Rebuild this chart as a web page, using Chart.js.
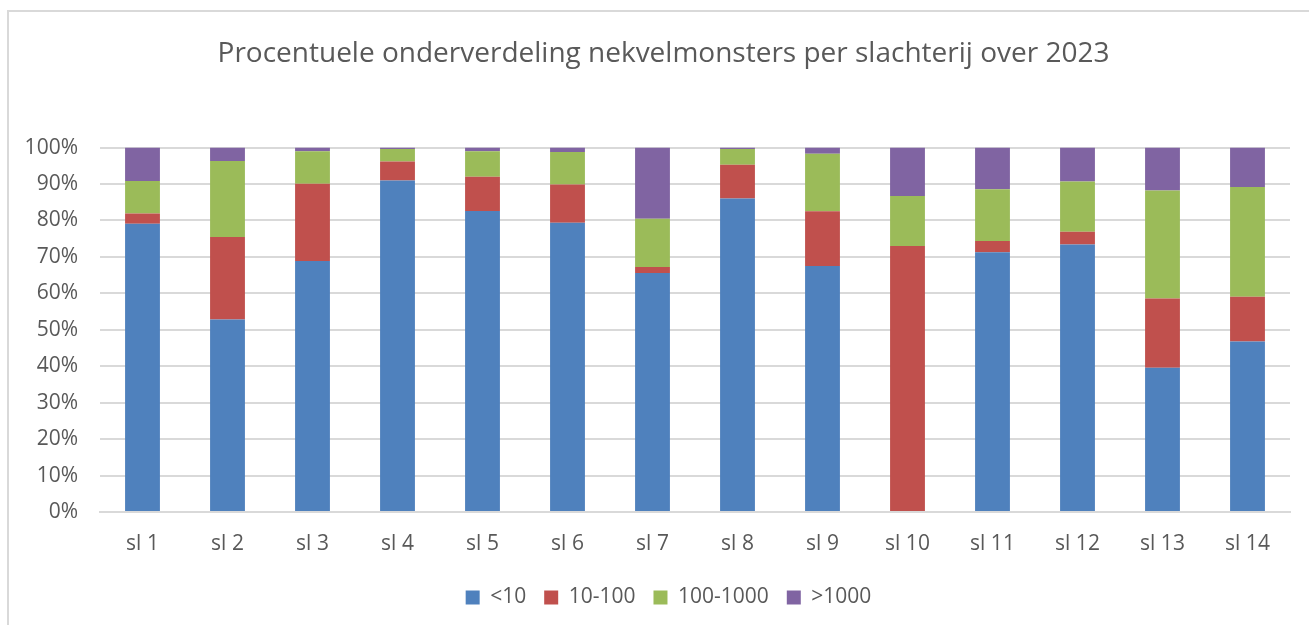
<!DOCTYPE html>
<html>
<head>
<meta charset="utf-8">
<script src="https://cdn.jsdelivr.net/npm/chart.js@4.4.0/dist/chart.umd.min.js"></script>
<style>
  html, body { margin: 0; padding: 0; background: #ffffff; overflow: hidden; }
  #frame { position: absolute; left: 7px; top: 10px; width: 1320px; height: 640px; border: 2px solid #d9d9d9; box-sizing: border-box; }
  #wrap { position: absolute; left: 0; top: 0; width: 1309px; height: 625px; }
</style>
</head>
<body>
<div id="frame"></div>
<div id="wrap"><canvas id="c" width="1309" height="625"></canvas></div>
<script>
const categories = ["sl 1","sl 2","sl 3","sl 4","sl 5","sl 6","sl 7","sl 8","sl 9","sl 10","sl 11","sl 12","sl 13","sl 14"];
const seriesNames = ["<10", "10-100", "100-1000", ">1000"];
const lt10      = [79.1, 52.8, 68.9, 91.0, 82.6, 79.4, 65.6, 86.0, 67.5, 0.0, 71.3, 73.4, 39.6, 46.8];
const r10_100   = [ 2.8, 22.7, 21.2,  5.2,  9.4, 10.5,  1.6,  9.3, 15.0, 73.0,  3.1,  3.5, 19.0, 12.3];
const r100_1000 = [ 8.9, 20.8,  8.9,  3.4,  7.0,  8.9, 13.3,  4.3, 15.8, 13.7, 14.2, 13.8, 29.6, 30.1];
const gt1000    = [ 9.2,  3.7,  1.0,  0.4,  1.0,  1.2, 19.5,  0.4,  1.7, 13.3, 11.4,  9.3, 11.8, 10.8];
const yTicks = [0,10,20,30,40,50,60,70,80,90,100];

const colors = ["#4F81BD", "#C0504D", "#9BBB59", "#8064A2"];
const seriesData = [lt10, r10_100, r100_1000, gt1000];
const FONT = "'Open Sans', 'Noto Sans', sans-serif";
const TXT = "#595959";

// Centre title and legend over the whole chart frame rather than the padded box
const centerBlocks = {
  id: 'centerBlocks',
  afterLayout(chart) {
    if (chart.titleBlock) chart.titleBlock.left = 37;
    if (chart.legend) chart.legend.left = 47;
  }
};

new Chart(document.getElementById('c'), {
  type: 'bar',
  data: {
    labels: categories,
    datasets: seriesData.map((d, i) => ({
      label: seriesNames[i],
      data: d,
      backgroundColor: colors[i],
      borderWidth: 0,
      barPercentage: 0.82,
      categoryPercentage: 0.5
    }))
  },
  plugins: [centerBlocks],
  options: {
    responsive: false,
    animation: false,
    devicePixelRatio: 1,
    layout: { padding: { left: 0, right: 19, top: 0, bottom: 7 } },
    plugins: {
      title: {
        display: true,
        text: "Procentuele onderverdeling nekvelmonsters per slachterij over 2023",
        color: TXT,
        font: { family: FONT, size: 28, weight: 'normal' },
        padding: { top: 37, bottom: 77 }
      },
      legend: {
        position: 'bottom',
        labels: {
          color: TXT,
          font: { family: FONT, size: 21 },
          boxWidth: 14,
          boxHeight: 14,
          padding: 18
        }
      },
      tooltip: { enabled: false }
    },
    scales: {
      x: {
        stacked: true,
        grid: { display: false, drawTicks: false },
        border: { display: true, color: '#d9d9d9', width: 2 },
        ticks: { color: TXT, font: { family: FONT, size: 21 }, padding: 19 },
        afterFit: (s) => { s.height = 57; }
      },
      y: {
        stacked: true,
        min: 0,
        max: 100,
        afterBuildTicks: (s) => { s.ticks = yTicks.map(v => ({ value: v })); },
        grid: { color: '#d9d9d9', lineWidth: 2, drawTicks: false },
        border: { display: false },
        ticks: {
          color: TXT,
          font: { family: FONT, size: 21 },
          padding: 22,
          callback: (v) => v + '%'
        },
        afterFit: (s) => { s.width = 100; }
      }
    }
  }
});
</script>
</body>
</html>
